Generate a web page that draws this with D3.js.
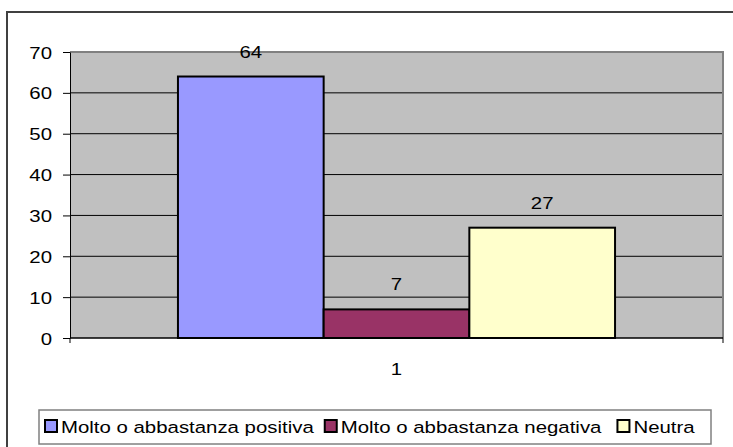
<!DOCTYPE html>
<html>
<head>
<meta charset="utf-8">
<script src="https://cdn.jsdelivr.net/npm/d3@7"></script>
<style>
  body { margin: 0; background: #fff; }
  svg text { font-family: "Liberation Sans", Arial, sans-serif; fill: #000; }
</style>
</head>
<body>
<div id="chart"></div>
<script>
// data
const categories = ["1"];
const seriesNames = ["Molto o abbastanza positiva", "Molto o abbastanza negativa", "Neutra"];
const seriesValues = [64, 7, 27];
const seriesColors = ["#9999FF", "#993366", "#FFFFCC"];
const yTicks = [0, 10, 20, 30, 40, 50, 60, 70];

const width = 733, height = 447;
const margin = {top: 52, right: 10, bottom: 109, left: 70};
const plot_w = width - margin.left - margin.right;
const plot_h = height - margin.top - margin.bottom;
const sx = 1.2; // text in the picture is a bit stretched sideways
const fontSize = "17px";

const svg = d3.select("#chart").append("svg")
    .attr("width", width)
    .attr("height", height);

// outer chart frame (runs off the right and bottom)
svg.append("rect")
    .attr("x", 7).attr("y", 12)
    .attr("width", 740).attr("height", 460)
    .attr("fill", "none")
    .attr("stroke", "#404040")
    .attr("stroke-width", 2);

const g = svg.append("g")
    .attr("transform", `translate(${margin.left},${margin.top})`);

const yScale = d3.scaleLinear().domain([0, 70]).range([plot_h, 0]);
const x0 = d3.scaleBand().domain(categories).range([0, plot_w])
    .paddingInner(0).paddingOuter(0.247);
const x1 = d3.scaleBand().domain(seriesNames).range([0, x0.bandwidth()]);

// plot background
g.append("rect")
    .attr("width", plot_w).attr("height", plot_h)
    .attr("fill", "#C0C0C0");

// gridlines
g.selectAll(".grid").data(yTicks.filter(d => d > 0 && d < 70))
  .enter().append("line")
    .attr("x1", 0).attr("x2", plot_w)
    .attr("y1", d => yScale(d)).attr("y2", d => yScale(d))
    .attr("stroke", "#000").attr("stroke-width", 1);

// top and right border of the plot
g.append("path")
    .attr("d", `M0,${yScale(70)}H${plot_w}V${plot_h}`)
    .attr("fill", "none")
    .attr("stroke", "#808080")
    .attr("stroke-width", 2);

// bars
const data = seriesNames.map((s, i) => ({name: s, value: seriesValues[i], color: seriesColors[i]}));
const grp = g.selectAll(".grp").data(categories).enter().append("g")
    .attr("transform", d => `translate(${x0(d)},0)`);

grp.selectAll("rect").data(data).enter().append("rect")
    .attr("x", d => x1(d.name))
    .attr("y", d => yScale(d.value))
    .attr("width", x1.bandwidth())
    .attr("height", d => plot_h - yScale(d.value))
    .attr("fill", d => d.color)
    .attr("stroke", "#000")
    .attr("stroke-width", 2);

grp.selectAll(".lbl").data(data).enter().append("text")
    .attr("transform", d => `translate(${x1(d.name) + x1.bandwidth() / 2},${yScale(d.value) - 19}) scale(${sx},1)`)
    .attr("text-anchor", "middle")
    .style("font-size", fontSize)
    .text(d => d.value);

// y axis
const yAxis = g.append("g").call(d3.axisLeft(yScale).tickValues(yTicks).tickSize(7).tickSizeOuter(0));
yAxis.select(".domain").attr("stroke", "#000");
yAxis.selectAll("text").remove();
yAxis.selectAll(".tick").append("text")
    .attr("transform", `translate(-18,6) scale(${sx},1)`)
    .attr("text-anchor", "end")
    .style("font-size", fontSize)
    .text(d => d);

// x axis
const xAxis = g.append("g").attr("transform", `translate(0,${plot_h})`);
xAxis.append("line").attr("x1", 0).attr("x2", plot_w).attr("stroke", "#000").attr("stroke-width", 1.5);
xAxis.selectAll(".edge").data([0, plot_w]).enter().append("line")
    .attr("x1", d => d).attr("x2", d => d).attr("y1", 0).attr("y2", 5)
    .attr("stroke", "#000");
xAxis.selectAll(".cat").data(categories).enter().append("text")
    .attr("transform", d => `translate(${x0(d) + x0.bandwidth() / 2},37) scale(${sx},1)`)
    .attr("text-anchor", "middle")
    .style("font-size", fontSize)
    .text(d => d);

// legend
const legend = svg.append("g").attr("transform", "translate(39,410)");
legend.append("rect")
    .attr("width", 672).attr("height", 34)
    .attr("fill", "#fff")
    .attr("stroke", "#808080")
    .attr("stroke-width", 1.5);

const items = legend.selectAll(".item").data(data).enter().append("g");
items.append("rect")
    .attr("x", 0).attr("y", 10)
    .attr("width", 12).attr("height", 12)
    .attr("fill", d => d.color)
    .attr("stroke", "#000")
    .attr("stroke-width", 2);
items.append("text")
    .attr("transform", `translate(16,22.5) scale(${sx},1)`)
    .style("font-size", fontSize)
    .text(d => d.name);

// lay the legend entries out one after the other
const gaps = [11, 16];
let lx = 6;
items.each(function(d, i) {
    d3.select(this).attr("transform", `translate(${lx},0)`);
    const tw = d3.select(this).select("text").node().getComputedTextLength() * sx;
    lx += 16 + tw + (gaps[i] || 0);
});
</script>
</body>
</html>
